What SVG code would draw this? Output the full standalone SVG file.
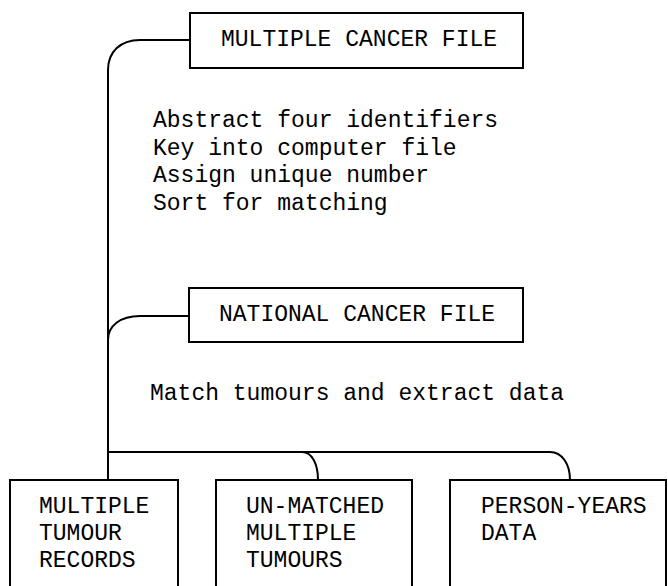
<svg xmlns="http://www.w3.org/2000/svg" width="668" height="586" viewBox="0 0 668 586">
<style>
.box{fill:#fff;stroke:#000;stroke-width:2}
.t{font-family:"Liberation Mono","Courier New",monospace;font-size:23px;fill:#000}
.c{fill:none;stroke:#000;stroke-width:2}
</style>
<rect width="668" height="586" fill="#fff"/>
<g id="connectors">
<path class="c" d="M190 40 H140 C120 40 108 52 108 70 V480"/>
<path class="c" d="M189 316 H140 C120 316 108 326 108 340"/>
<path class="c" d="M108 452 H302 C312 452 318 464 318 480"/>
<path class="c" d="M302 452 H550 C562 452 570 464 570 480"/>
</g>
<g id="multiple-cancer-file">
<rect class="box" x="190" y="13" width="333" height="55"/>
<text class="t" x="221" y="46">MULTIPLE CANCER FILE</text>
</g>
<g id="steps1">
<text class="t" x="153" y="127">Abstract four identifiers</text>
<text class="t" x="153" y="155">Key into computer file</text>
<text class="t" x="153" y="182">Assign unique number</text>
<text class="t" x="153" y="210">Sort for matching</text>
</g>
<g id="national-cancer-file">
<rect class="box" x="189" y="288" width="334" height="54"/>
<text class="t" x="219" y="321">NATIONAL CANCER FILE</text>
</g>
<g id="steps2">
<text class="t" x="150" y="400">Match tumours and extract data</text>
</g>
<g id="multiple-tumour-records">
<rect class="box" x="10" y="480" width="168" height="130"/>
<text class="t" x="39" y="513">MULTIPLE</text>
<text class="t" x="39" y="540">TUMOUR</text>
<text class="t" x="39" y="567">RECORDS</text>
</g>
<g id="unmatched-multiple-tumours">
<rect class="box" x="216" y="480" width="196" height="130"/>
<text class="t" x="246" y="513">UN-MATCHED</text>
<text class="t" x="246" y="540">MULTIPLE</text>
<text class="t" x="246" y="567">TUMOURS</text>
</g>
<g id="person-years-data">
<rect class="box" x="450" y="480" width="216" height="130"/>
<text class="t" x="481" y="513">PERSON-YEARS</text>
<text class="t" x="481" y="540">DATA</text>
</g>
</svg>
